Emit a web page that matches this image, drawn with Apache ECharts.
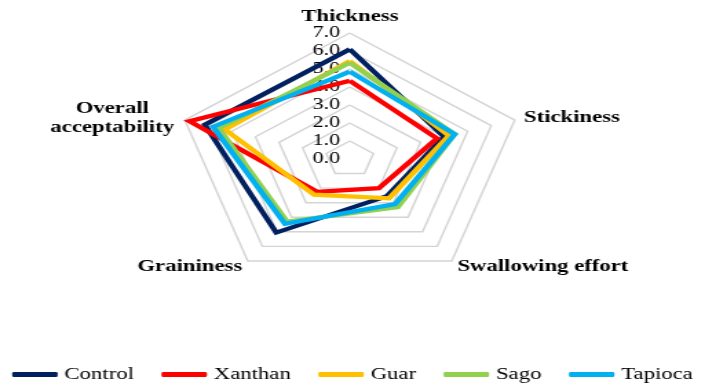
<!DOCTYPE html>
<html>
<head>
<meta charset="utf-8">
<script src="https://cdn.jsdelivr.net/npm/echarts@6/dist/echarts.min.js"></script>
<style>
  html, body { margin: 0; padding: 0; background: #fff; }
  #wrap { width: 705px; height: 385px; overflow: hidden; position: relative; }
  #chart { width: 512px; height: 385px; transform: scaleX(1.377); transform-origin: 0 0; }
</style>
</head>
<body>
<div id="wrap"><div id="chart"></div></div>
<script>
// Indicators in clockwise order starting from the top
const categories = ['Thickness', 'Stickiness', 'Swallowing effort', 'Graininess', 'Overall acceptability'];
const tickLabels = ['0.0', '1.0', '2.0', '3.0', '4.0', '5.0', '6.0', '7.0'];
const seriesNames = ['Control', 'Xanthan', 'Guar', 'Sago', 'Tapioca'];
const control = [6.1, 4.0, 2.55, 5.05, 6.15];
const xanthan = [4.35, 3.7, 2.0, 2.25, 6.8];
const guar    = [5.45, 4.2, 2.7, 2.45, 5.3];
const sago    = [5.35, 4.45, 3.3, 4.3, 5.55];
const tapioca = [4.85, 4.45, 3.1, 4.45, 5.8];
const colors = ['#002060', '#FF0000', '#FFC000', '#92D050', '#00B0F0'];

const FONT = '"Liberation Serif", "Times New Roman", serif';
// ECharts lays radar indicators counter-clockwise; reorder so they appear clockwise
const order = [0, 4, 3, 2, 1];
const allValues = [control, xanthan, guar, sago, tapioca];

const chart = echarts.init(document.getElementById('chart'), null, { renderer: 'canvas' });
chart.setOption({
  backgroundColor: '#ffffff',
  animation: false,
  legend: {
    data: seriesNames,
    left: 'center',
    top: 361,
    icon: 'roundRect',
    itemWidth: 33,
    itemHeight: 5,
    itemGap: 20,
    textStyle: { fontFamily: FONT, fontSize: 16.5, color: '#000' }
  },
  radar: {
    center: [254, 159],
    radius: 126,
    startAngle: 90,
    shape: 'polygon',
    splitNumber: 7,
    nameGap: 7,
    axisName: {
      color: '#000',
      fontFamily: FONT,
      fontWeight: 'bold',
      fontSize: 16.5,
      formatter: function (name) {
        if (name === 'Overall acceptability') return '{c|Overall}\n{c|acceptability}';
        return name;
      },
      rich: {
        c: { width: 92, align: 'center', fontFamily: FONT, fontWeight: 'bold', fontSize: 16.5, lineHeight: 19, color: '#000' }
      }
    },
    axisLine: { show: false },
    axisTick: { show: false },
    splitArea: { show: false },
    splitLine: { lineStyle: { color: '#d4d4d4', width: 1.4 } },
    axisLabel: {
      show: true,
      color: '#000',
      fontFamily: FONT,
      fontSize: 16,
      margin: 7,
      formatter: function (v) { return tickLabels[Math.round(v)]; }
    },
    indicator: order.map(function (i, k) {
      const ind = { name: categories[i], min: 0, max: 7 };
      if (k !== 0) ind.axisLabel = { show: false };
      return ind;
    })
  },
  series: [{
    type: 'radar',
    symbol: 'none',
    data: seriesNames.map(function (n, s) {
      return {
        name: n,
        value: order.map(function (i) { return allValues[s][i]; }),
        lineStyle: { color: colors[s], width: 4.2, join: 'miter' },
        itemStyle: { color: colors[s] }
      };
    })
  }]
});
</script>
</body>
</html>
